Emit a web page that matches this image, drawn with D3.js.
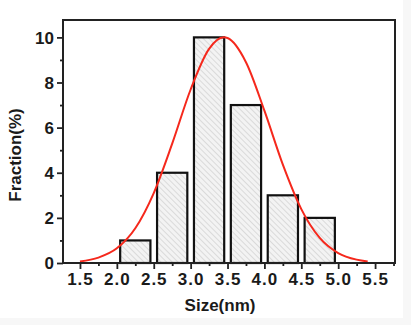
<!DOCTYPE html>
<html><head><meta charset="utf-8">
<script src="https://cdn.jsdelivr.net/npm/d3@7/dist/d3.min.js"></script>
<style>body{margin:0;background:#f7f7f7}svg{display:block}</style>
</head><body>
<script>
// Histogram bins (centre, nm) and fractions (%)
const binCenters = [2.25, 2.75, 3.25, 3.75, 4.25, 4.75];
const fractions = [1, 4, 10, 7, 3, 2];
const binWidth = 0.41;
// Fitted curve
const curveX = [1.5, 1.75, 2.0, 2.25, 2.5, 2.75, 3.0, 3.25, 3.45, 3.5, 3.75, 4.0, 4.25, 4.5, 4.75, 5.0, 5.25, 5.4];
const curveY = [0.07, 0.24, 0.65, 1.54, 3.1, 5.29, 7.69, 9.49, 10, 9.97, 8.9, 6.75, 4.36, 2.39, 1.11, 0.44, 0.15, 0.07];
const xTicks = [1.5, 2.0, 2.5, 3.0, 3.5, 4.0, 4.5, 5.0, 5.5];
const yTicks = [0, 2, 4, 6, 8, 10];

const W = 411, H = 325;
const svg = d3.select("body").append("svg").attr("width", W).attr("height", H);
svg.append("rect").attr("width", 403).attr("height", 318).attr("fill", "#fff");

const L = 63, R = 395, T = 20, B = 263;
const x = d3.scaleLinear().domain([1.27, 5.77]).range([L, R]);
const y = d3.scaleLinear().domain([0, 10.77]).range([B, T]);

const defs = svg.append("defs");
const pat = defs.append("pattern").attr("id", "hatch").attr("patternUnits", "userSpaceOnUse")
  .attr("width", 4).attr("height", 4).attr("patternTransform", "rotate(-45)");
pat.append("rect").attr("width", 4).attr("height", 4).attr("fill", "#f3f3f3");
pat.append("line").attr("x1", 0).attr("y1", 0).attr("x2", 0).attr("y2", 4)
  .attr("stroke", "#c9c9c9").attr("stroke-width", 1.2);

const font = "'Liberation Sans', Arial, sans-serif";

// bars
svg.selectAll("rect.bar").data(binCenters).join("rect").attr("class", "bar")
  .attr("x", (d) => x(d - binWidth / 2))
  .attr("width", (d) => x(d + binWidth / 2) - x(d - binWidth / 2))
  .attr("y", (d, i) => y(fractions[i]))
  .attr("height", (d, i) => y(0) - y(fractions[i]))
  .attr("fill", "url(#hatch)").attr("stroke", "#111").attr("stroke-width", 2.2);

// curve
const pts = curveX.map((d, i) => [d, curveY[i]]);
svg.append("path").datum(pts)
  .attr("d", d3.line().x(d => x(d[0])).y(d => y(d[1])).curve(d3.curveMonotoneX))
  .attr("fill", "none").attr("stroke", "#f5281c").attr("stroke-width", 2);

// axes
const minorX = d3.range(1.75, 5.76, 0.5);
const xAxis = svg.append("g").attr("transform", `translate(0,${B})`)
  .call(d3.axisBottom(x).tickValues(xTicks).tickFormat(d3.format(".1f")).tickSize(6).tickPadding(4));
svg.append("g").attr("transform", `translate(0,${B})`)
  .call(d3.axisBottom(x).tickValues(minorX).tickFormat("").tickSize(3))
  .call(g => g.select(".domain").remove());
const yAxis = svg.append("g").attr("transform", `translate(${L},0)`)
  .call(d3.axisLeft(y).tickValues(yTicks).tickSize(6).tickPadding(3));
svg.append("g").attr("transform", `translate(${L},0)`)
  .call(d3.axisLeft(y).tickValues([1, 3, 5, 7, 9]).tickFormat("").tickSize(3))
  .call(g => g.select(".domain").remove());

svg.selectAll(".tick line").attr("stroke", "#222").attr("stroke-width", 1.8);
svg.selectAll(".domain").attr("stroke", "none");
xAxis.selectAll("text").attr("font-family", font).attr("font-weight", "bold")
  .attr("font-size", 17).attr("fill", "#1a1a1a").attr("letter-spacing", 1);
yAxis.selectAll("text").attr("font-family", font).attr("font-weight", "bold")
  .attr("font-size", 17).attr("fill", "#1a1a1a").attr("dy", "0.35em");

// frame
svg.append("rect").attr("x", L).attr("y", T).attr("width", R - L).attr("height", B - T)
  .attr("fill", "none").attr("stroke", "#222").attr("stroke-width", 2);

// titles
svg.append("text").attr("x", 220).attr("y", 311).attr("text-anchor", "middle")
  .attr("font-family", font).attr("font-weight", "bold").attr("font-size", 17).attr("fill", "#1a1a1a")
  .text("Size(nm)");
svg.append("text").attr("transform", "translate(21,155) rotate(-90)").attr("text-anchor", "middle")
  .attr("font-family", font).attr("font-weight", "bold").attr("font-size", 17).attr("fill", "#1a1a1a")
  .text("Fraction(%)");
</script>
</body></html>
